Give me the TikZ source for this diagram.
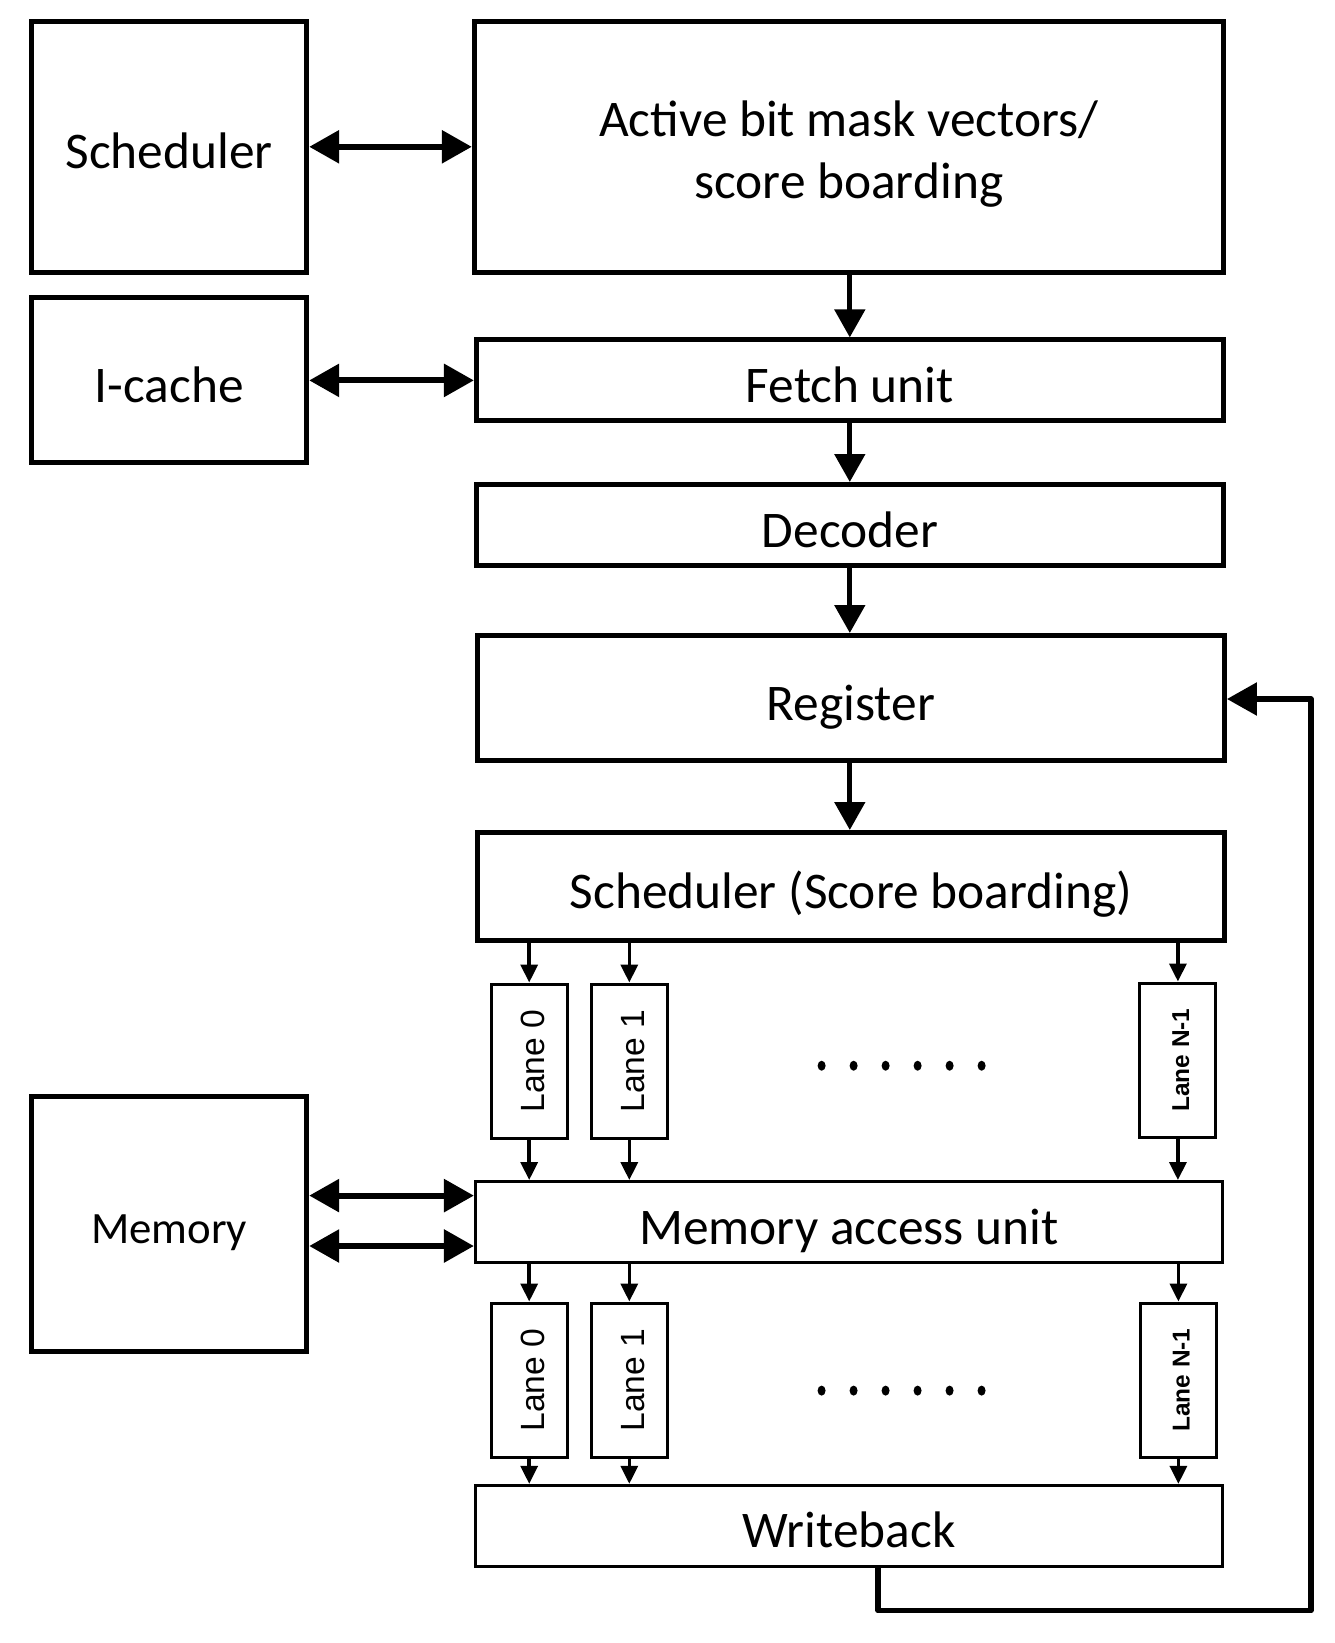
\documentclass[tikz,border=0pt]{standalone}
\usepackage{fontspec}
\setmainfont{Carlito}
\newfontfamily\lanefont{Liberation Sans}
\usetikzlibrary{arrows.meta,calc}
\begin{document}
\begin{tikzpicture}[x=1pt,y=-1pt,
  bigbox/.style={draw=black,line width=5pt,inner sep=0pt,font=\fontsize{51.4}{62}\selectfont,text height=44pt,text depth=0pt},
  thinbox/.style={draw=black,line width=3pt,inner sep=0pt,font=\fontsize{51.4}{62}\selectfont,text height=44pt,text depth=0pt},
  lanebox/.style={draw=black,line width=3pt,inner sep=0pt,minimum width=76pt,minimum height=154pt},
  lanetext/.style={rotate=90,inner sep=0pt,font=\lanefont\fontsize{33.6}{40}\selectfont},
  lanetextb/.style={rotate=90,inner sep=0pt,font=\lanefont\bfseries\fontsize{24.4}{30}\selectfont},
  dbl/.style={line width=6pt,{Triangle[length=30pt,width=32pt]}-{Triangle[length=30pt,width=32pt]}},
  dnarrow/.style={line width=5pt,-{Triangle[length=28pt,width=30pt]}},
  lnarrow/.style={line width=3.5pt,-{Triangle[length=18pt,width=17pt]}},
  fb/.style={line width=5.5pt,-{Triangle[length=30pt,width=32pt]},line join=round},
  dotc/.style={fill=black,draw=none}]
\useasboundingbox (0,0) rectangle (1335,1643);
\fill[white] (0,0) rectangle (1335,1643);

% left boxes
\node[bigbox,minimum width=275pt,minimum height=251pt] (sch) at (169.2,146.8) {Scheduler};
\node[bigbox,minimum width=275pt,minimum height=165pt] (ic) at (169.2,380.4) {I-cache};
\node[bigbox,minimum width=275pt,minimum height=255pt,font=\fontsize{44.8}{54}\selectfont,text height=38pt] (mem) at (169.2,1224) {Memory};

% main column
\node[draw=black,line width=5pt,inner sep=0pt,minimum width=749pt,minimum height=251pt] (act) at (848.8,146.8) {};
\node[font=\fontsize{51.4}{62}\selectfont,align=center] (acttext) at ($(act.center)+(0,7.5)$) {Active bit mask vectors/\\score boarding};
\node[bigbox,minimum width=747pt,minimum height=81pt] (fet) at (849.9,380.4) {Fetch unit};
\node[bigbox,minimum width=747pt,minimum height=81pt] (dec) at (849.9,525) {Decoder};
\node[bigbox,minimum width=747pt,minimum height=125pt] (reg) at (850.9,698) {Register};
\node[bigbox,minimum width=747pt,minimum height=108pt] (sc2) at (850.9,886.5) {Scheduler (Score boarding)};
\node[thinbox,minimum width=747pt,minimum height=81pt] (mau) at (848.9,1222) {Memory access unit};
\node[thinbox,minimum width=747pt,minimum height=81pt] (wb) at (848.9,1525.8) {Writeback};

% lanes upper
\node[lanebox] (ua) at (529.2,1061) {};
\node[lanetext] (uat) at ($(ua)+(4,0)$) {Lane 0};
\node[lanebox] (ub) at (629.3,1061) {};
\node[lanetext] (ubt) at ($(ub)+(4,0)$) {Lane 1};
\node[lanebox] (un) at (1177.9,1060) {};
\node[lanetextb] (unt) at ($(un)+(3,0)$) {Lane N-1};

% lanes lower
\node[lanebox] (la) at (529.2,1380) {};
\node[lanetext] (lat) at ($(la)+(4,0)$) {Lane 0};
\node[lanebox] (lb) at (629.3,1380) {};
\node[lanetext] (lbt) at ($(lb)+(4,0)$) {Lane 1};
\node[lanebox] (ln) at (1178.4,1380) {};
\node[lanetextb] (lnt) at ($(ln)+(3,0)$) {Lane N-1};

% dots
\foreach \i in {0,...,5} {
  \fill[dotc] (821.6+32*\i,1065.7) ellipse (4pt and 5pt);
  \fill[dotc] (821.6+32*\i,1390.6) ellipse (4pt and 5pt);
}

% horizontal double arrows
\draw[dbl] (sch.east |- act.west) -- (act.west);
\draw[dbl] (ic.east) -- (fet.west);
\coordinate (m1) at (0,1195.6);
\coordinate (m2) at (0,1246);
\draw[dbl] (mem.east |- m1) -- (mau.west |- m1);
\draw[dbl] (mem.east |- m2) -- (mau.west |- m2);

% vertical arrows
\coordinate (vx) at (849.8,0);
\draw[dnarrow] (act.south -| vx) -- (fet.north -| vx);
\draw[dnarrow] (fet.south -| vx) -- (dec.north -| vx);
\draw[dnarrow] (dec.south -| vx) -- (reg.north -| vx);
\draw[dnarrow] (reg.south -| vx) -- (sc2.north -| vx);

\foreach \n in {ua,ub,un} {
  \draw[lnarrow] (sc2.south -| \n) -- (\n.north);
  \draw[lnarrow] (\n.south) -- (mau.north -| \n);
}
\foreach \n in {la,lb,ln} {
  \draw[lnarrow] (mau.south -| \n) -- (\n.north);
  \draw[lnarrow] (\n.south) -- (wb.north -| \n);
}

% feedback
\coordinate (fbx) at (878,1610.6);
\coordinate (fbr) at (1311,699);
\draw[fb] (wb.south -| fbx) -- (fbx) -- (fbr |- fbx) -- (fbr) -- (reg.east |- fbr);
\end{tikzpicture}
\end{document}
